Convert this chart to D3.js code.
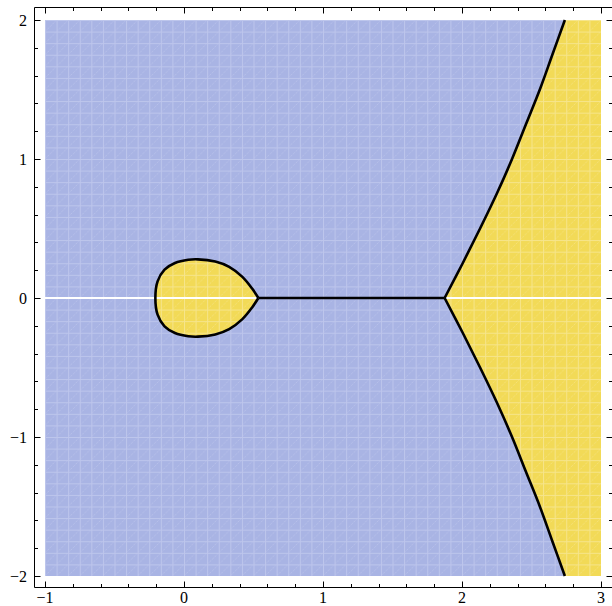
<!DOCTYPE html>
<html><head><meta charset="utf-8">
<script src="https://cdn.jsdelivr.net/npm/d3@7"></script>
<style>html,body{margin:0;padding:0;background:#fff;}svg{display:block;}</style>
</head><body>
<script>
// ---- data ----
const xDomain = [-1, 3];
const yDomain = [-2, 2];
const xTicks = [-1, 0, 1, 2, 3];
const yTicks = [-2, -1, 0, 1, 2];
const xTickLabels = ["\u22121", "0", "1", "2", "3"];
const yTickLabels = ["\u22122", "\u22121", "0", "1", "2"];

// closed teardrop loop, starting and ending at the cusp on the real axis
const loopX = [0.535, 0.49, 0.42, 0.325, 0.225, 0.10, 0.031, -0.065, -0.14, -0.19, -0.206,
               -0.19, -0.14, -0.065, 0.031, 0.10, 0.225, 0.325, 0.42, 0.49, 0.535];
const loopY = [0, 0.068, 0.152, 0.224, 0.262, 0.278, 0.275, 0.252, 0.204, 0.12, 0,
               -0.12, -0.204, -0.252, -0.275, -0.278, -0.262, -0.224, -0.152, -0.068, 0];

// right boundary branches, from the junction on the real axis outward
const upperX = [1.875, 2.005, 2.13, 2.25, 2.36, 2.46, 2.56, 2.65, 2.74];
const upperY = [0, 0.25, 0.5, 0.75, 1.0, 1.25, 1.5, 1.75, 2.0];
const lowerX = [1.875, 2.005, 2.13, 2.25, 2.36, 2.46, 2.56, 2.65, 2.74];
const lowerY = [0, -0.25, -0.5, -0.75, -1.0, -1.25, -1.5, -1.75, -2.0];

// segment of the boundary lying on the real axis
const axisSegX = [0.535, 1.875];

// ---- layout ----
const W = 612, H = 606;
const plotL = 45, plotR = 601, plotT = 20, plotB = 576;
const frameL = 34.5, frameR = 612.5, frameT = 7.5, frameB = 587.5;
const blue = "#a9b4e4", yellow = "#f2da57";

const x = d3.scaleLinear().domain(xDomain).range([plotL, plotR]);
const y = d3.scaleLinear().domain(yDomain).range([plotB, plotT]);

const svg = d3.select("body").append("svg").attr("width", W).attr("height", H);
const defs = svg.append("defs");
const cell = (plotR - plotL) / 48;
function makePattern(id, base, lineCol) {
  const p = defs.append("pattern").attr("id", id).attr("patternUnits", "userSpaceOnUse")
    .attr("x", plotL).attr("y", plotT).attr("width", cell).attr("height", cell);
  p.append("rect").attr("width", cell).attr("height", cell).attr("fill", base);
  p.append("path").attr("d", `M0,0.5H${cell}M0.5,0V${cell}`).attr("stroke", lineCol).attr("stroke-width", 1).attr("fill", "none");
  p.append("path").attr("d", `M0,${cell}L${cell},0`).attr("stroke", lineCol).attr("stroke-width", 0.9)
    .attr("stroke-dasharray", "1,1.2").attr("fill", "none");
}
makePattern("pb", blue, "#bdc6ec");
makePattern("py", yellow, "#f6e58c");

// background region
svg.append("rect").attr("x", x(xDomain[0])).attr("y", y(yDomain[1]))
  .attr("width", x(xDomain[1]) - x(xDomain[0])).attr("height", y(yDomain[0]) - y(yDomain[1]))
  .attr("fill", "url(#pb)");

const line = d3.line().x(d => x(d[0])).y(d => y(d[1])).curve(d3.curveCatmullRom.alpha(0.5));
const loopPts = loopX.map((v, i) => [v, loopY[i]]);
const upPts = upperX.map((v, i) => [v, upperY[i]]);
const loPts = lowerX.map((v, i) => [v, lowerY[i]]);

// yellow regions
svg.append("path").attr("d", line(loopPts) + "Z").attr("fill", "url(#py)");
const dUp = line(upPts.slice().reverse());
const dLo = line(loPts).replace(/^M/, "L");
svg.append("path")
  .attr("d", dUp + dLo + `L${x(xDomain[1])},${y(yDomain[0])}L${x(xDomain[1])},${y(yDomain[1])}Z`)
  .attr("fill", "url(#py)");

// white real axis line
svg.append("line").attr("x1", x(xDomain[0])).attr("x2", x(xDomain[1]))
  .attr("y1", y(0)).attr("y2", y(0)).attr("stroke", "#fff").attr("stroke-width", 2.2);

// boundary curves
const bstyle = sel => sel.attr("fill", "none").attr("stroke", "#000").attr("stroke-width", 2.6)
  .attr("stroke-linejoin", "round").attr("stroke-linecap", "butt");
svg.append("path").attr("d", line(loopPts)).call(bstyle);
svg.append("path").attr("d", line(upPts)).call(bstyle);
svg.append("path").attr("d", line(loPts)).call(bstyle);
svg.append("line").attr("x1", x(axisSegX[0])).attr("x2", x(axisSegX[1]))
  .attr("y1", y(0)).attr("y2", y(0)).attr("stroke", "#000").attr("stroke-width", 2.6);

// frame
const frame = svg.append("g").attr("stroke", "#000").attr("stroke-width", 1).attr("fill", "none");
frame.append("path").attr("d", `M${frameL},${frameT}H${frameR}V${frameB}H${frameL}Z`);

// ticks
const minorX = d3.range(-1, 3.0001, 0.2);
const minorY = d3.range(-2, 2.0001, 0.2);
const isMajor = v => Math.abs(v - Math.round(v)) < 1e-6;
const tg = svg.append("g").attr("stroke", "#000").attr("stroke-width", 1);
minorX.forEach(v => {
  const len = isMajor(v) ? 6 : 3.5;
  const px = Math.round(x(v)) + 0.5;
  tg.append("line").attr("x1", px).attr("x2", px).attr("y1", frameB).attr("y2", frameB - len);
  tg.append("line").attr("x1", px).attr("x2", px).attr("y1", frameT).attr("y2", frameT + len);
});
minorY.forEach(v => {
  const len = isMajor(v) ? 6 : 3.5;
  const py = Math.round(y(v)) + 0.5;
  tg.append("line").attr("x1", frameL).attr("x2", frameL + len).attr("y1", py).attr("y2", py);
  tg.append("line").attr("x1", frameR).attr("x2", frameR - len).attr("y1", py).attr("y2", py);
});

// tick labels
const font = "'Liberation Serif', 'DejaVu Serif', serif";
svg.append("g").selectAll("text").data(xTicks).join("text")
  .attr("x", d => x(d)).attr("y", 603).attr("text-anchor", "middle")
  .attr("font-family", font).attr("font-size", 16).text((d, i) => xTickLabels[i]);
svg.append("g").selectAll("text").data(yTicks).join("text")
  .attr("x", 27).attr("y", d => y(d) + 5.5).attr("text-anchor", "end")
  .attr("font-family", font).attr("font-size", 16).text((d, i) => yTickLabels[i]);
</script>
</body></html>
